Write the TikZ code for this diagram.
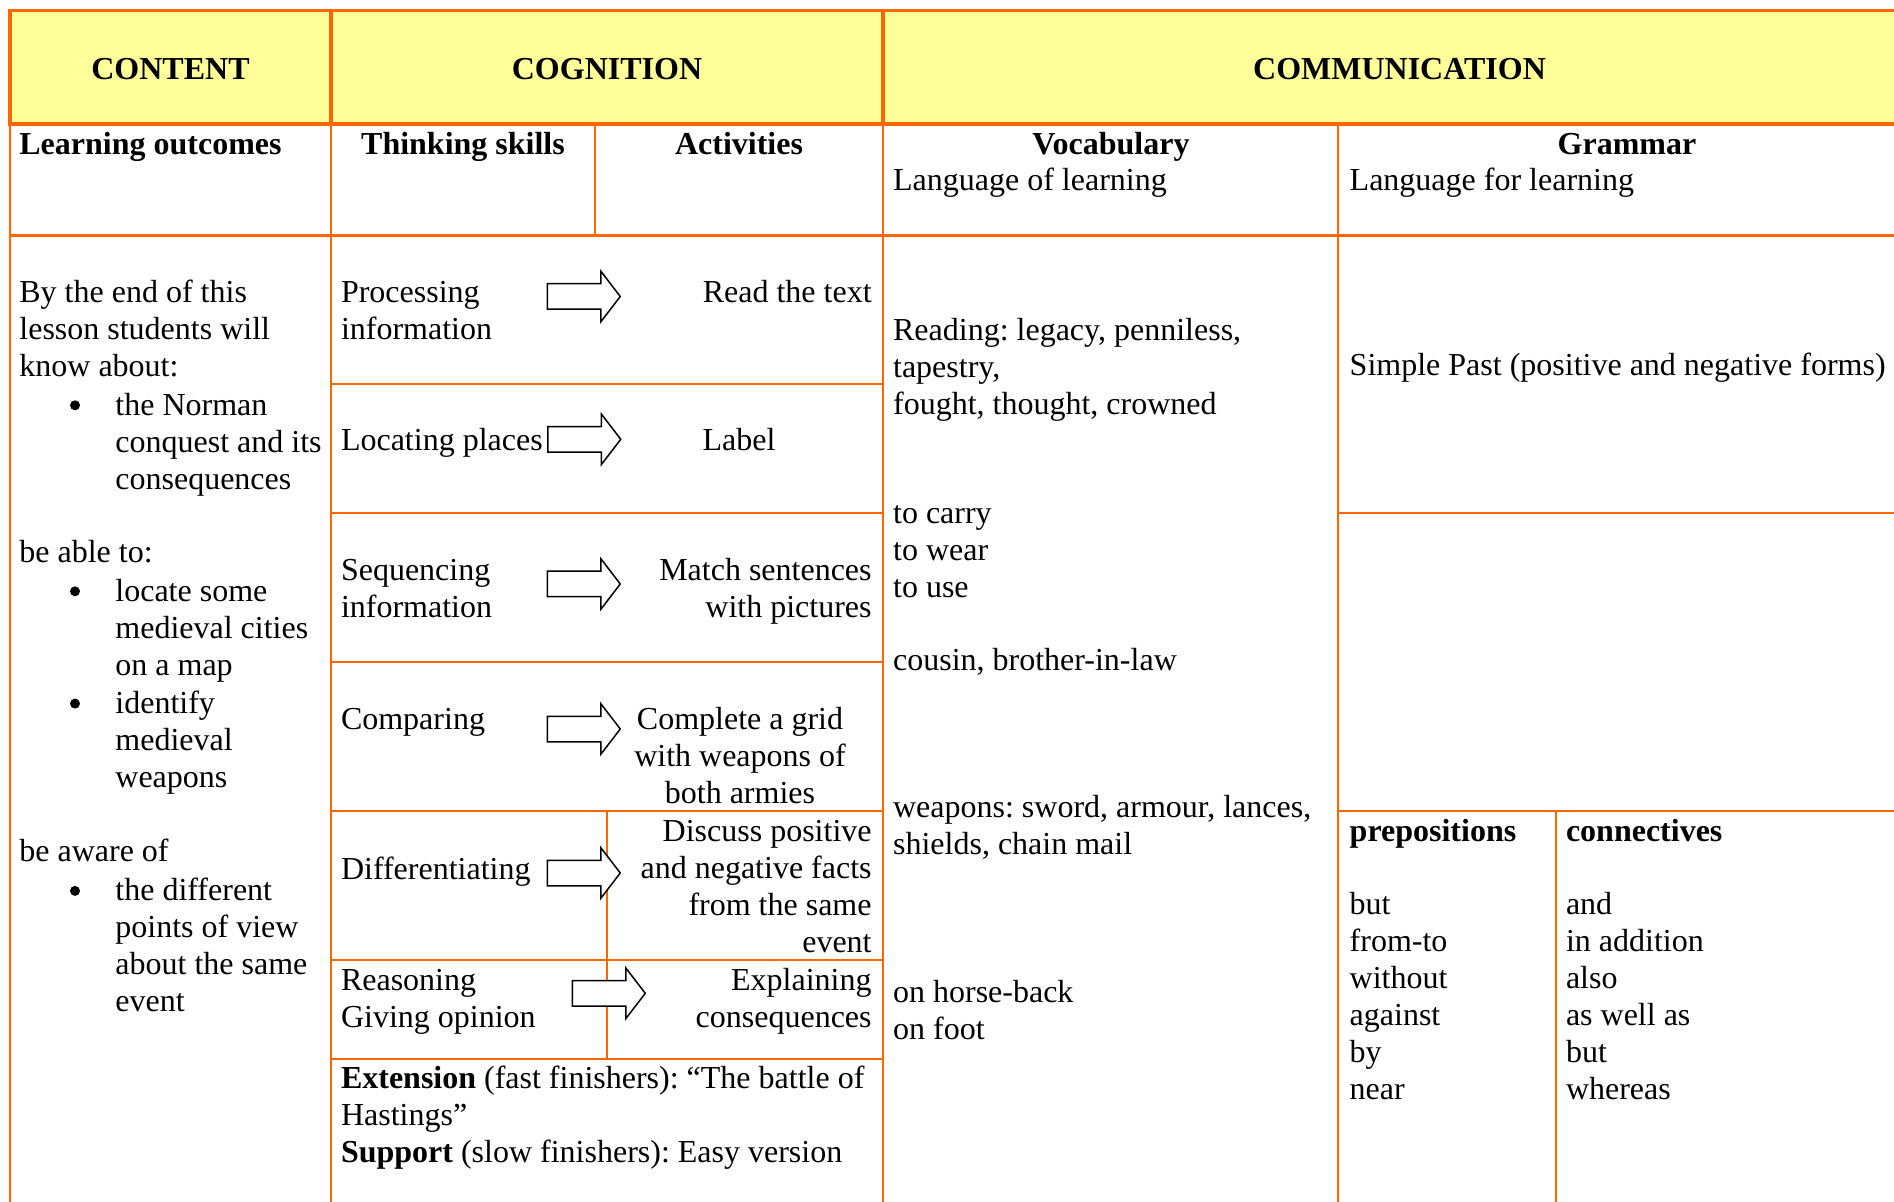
\documentclass[tikz,border=0pt]{standalone}
\usepackage{fontspec}
\setmainfont{Liberation Serif}
\usetikzlibrary{shapes.arrows}
\definecolor{ora}{HTML}{FF6600}
\definecolor{yel}{HTML}{FFFF99}
\newcommand{\fs}{\fontsize{16pt}{18.5pt}\selectfont\frenchspacing}
\begin{document}
\begin{tikzpicture}[x=0.5pt,y=-0.5pt,
  thickln/.style={draw=ora,line width=1.75pt,line cap=rect},
  thinln/.style={draw=ora,line width=1pt},
  midln/.style={draw=ora,line width=1.5pt},
  txt/.style={anchor=north west,inner sep=0pt,align=left,font=\fs,yshift=12.35pt},
  txtr/.style={anchor=north east,inner sep=0pt,align=right,font=\fs,yshift=12.35pt},
  txtc/.style={anchor=north,inner sep=0pt,align=center,font=\fs,yshift=12.35pt},
  hd/.style={anchor=base,inner sep=0pt,font=\fs\bfseries},
  hdl/.style={anchor=base west,inner sep=0pt,font=\fs\bfseries},
  bul/.style={circle,fill=black,inner sep=0pt,minimum size=5pt,yshift=4.2pt},
  barrow/.style={single arrow,draw=black,fill=white,line width=0.75pt,minimum height=36.5pt,
    single arrow head extend=6.25pt,single arrow tip angle=105,inner xsep=0pt,inner ysep=6pt,anchor=tail}
]
\useasboundingbox (0,0) rectangle (1894,1202);
\clip (0,0) rectangle (1894,1202);
% header fill
\fill[yel] (10,10.5) rectangle (1916,124);
% thin grid lines
\draw[thinln] (10,124) -- (10,1210);
\draw[thinln] (331,124) -- (331,1210);
\draw[thinln] (595,124) -- (595,236);
\draw[thinln] (883,124) -- (883,1210);
\draw[thinln] (1338,124) -- (1338,1210);
\draw[thinln] (331,384) -- (883,384);
\draw[thinln] (331,513.5) -- (883,513.5);
\draw[thinln] (331,662.5) -- (883,662.5);
\draw[thinln] (331,811) -- (883,811);
\draw[thinln] (331,960) -- (883,960);
\draw[thinln] (331,1058.5) -- (883,1058.5);
\draw[thinln] (607,811) -- (607,1058.5);
\draw[thinln] (1338,513.5) -- (1916,513.5);
\draw[thinln] (1338,811) -- (1916,811);
\draw[thinln] (1556,811) -- (1556,1210);
\draw[midln] (10,236) -- (1916,236);
% thick header lines
\draw[thickln] (10,10.5) -- (1916,10.5);
\draw[thickln] (10,10.5) -- (10,124);
\draw[thickln] (10,124) -- (1916,124);
\draw[thickln] (331,10.5) -- (331,124);
\draw[thickln] (883,10.5) -- (883,124);
% header texts
\node[hd] (hcontent) at (170.5,79.5) {CONTENT};
\node[hd] (hcog) at (607,79.5) {COGNITION};
\node[hd] (hcomm) at (1399.5,79.5) {COMMUNICATION};
% sub header
\node[hdl] (slo) at (19,155) {Learning outcomes};
\node[hd] (sts) at (463,155) {Thinking skills};
\node[hd] (sact) at (739,155) {Activities};
\node[hd] (svoc) at (1111,155) {Vocabulary};
\node[txt] (svoc2) at (892.7,189) {\strut Language of learning};
\node[hd] (sgram) at (1627,155) {Grammar};
\node[txt] (sgram2) at (1349.3,189) {\strut Language for learning};
% learning outcomes
\node[txt] (lo1) at (19,301.3) {\strut By the end of this\\lesson students will\\know about:};
\node[bul] (b1) at (75,413.7) {};
\node[txt] (lo2) at (115,413.7) {\strut the Norman\\conquest and its\\consequences};
\node[txt] (lo3) at (19,561) {\strut be able to:};
\node[bul] (b2) at (75,599.7) {};
\node[txt] (lo4) at (115,599.7) {\strut locate some\\medieval cities\\on a map};
\node[bul] (b3) at (75,712) {};
\node[txt] (lo5) at (115,712) {\strut identify\\medieval\\weapons};
\node[txt] (lo6) at (19,859.4) {\strut be aware of};
\node[bul] (b4) at (75,899.3) {};
\node[txt] (lo7) at (115,899.3) {\strut the different\\points of view\\about the same\\event};
% cognition
\node[txt] (s1) at (340.6,301.3) {\strut Processing\\information};
\node[txtr] (a1) at (872,301.3) {\strut Read the text};
\node[barrow] (ar1) at (546.5,296.5) {};
\node[txt] (s2) at (340.6,448.7) {\strut Locating places};
\node[txtc] (a2) at (739,448.7) {\strut Label};
\node[barrow] (ar2) at (547,439.3) {};
\node[txt] (s3) at (340.6,579) {\strut Sequencing\\information};
\node[txtr] (a3) at (872,579) {\strut Match sentences\\with pictures};
\node[barrow] (ar3) at (546.5,584) {};
\node[txt] (s4) at (340.6,727.8) {\strut Comparing};
\node[txtc] (a4) at (740,727.8) {\strut Complete a grid\\with weapons of\\both armies};
\node[barrow] (ar4) at (546.5,729) {};
\node[txt] (s5) at (340.6,877.6) {\strut Differentiating};
\node[txtr] (a5) at (872,840) {\strut Discuss positive\\and negative facts\\from the same\\event};
\node[barrow] (ar5) at (546.5,873) {};
\node[txt] (s6) at (340.6,988.7) {\strut Reasoning\\Giving opinion};
\node[txtr] (a6) at (872,988.7) {\strut Explaining\\consequences};
\node[barrow] (ar6) at (571.5,993.3) {};
\node[txt] (ext) at (340.6,1086.5) {\strut\textbf{Extension} (fast finishers): “The battle of\\Hastings”\\\textbf{Support} (slow finishers): Easy version};
% vocabulary
\node[txt] (v1) at (892.7,338.8) {\strut Reading: legacy, penniless,\\tapestry,\\fought, thought, crowned};
\node[txt] (v2) at (892.7,522.4) {\strut to carry\\to wear\\to use};
\node[txt] (v3) at (892.7,668.6) {\strut cousin, brother-in-law};
\node[txt] (v4) at (892.7,816) {\strut weapons: sword, armour, lances,\\shields, chain mail};
\node[txt] (v5) at (892.7,1000.8) {\strut on horse-back\\on foot};
% grammar
\node[txt] (g1) at (1349.3,373.8) {\strut Simple Past (positive and negative forms)};
\node[txt] (g2) at (1349.3,840) {\strut\textbf{prepositions}};
\node[txt] (g3) at (1349.3,912.6) {\strut but\\from-to\\without\\against\\by\\near};
\node[txt] (g4) at (1565.6,840) {\strut\textbf{connectives}};
\node[txt] (g5) at (1565.6,912.6) {\strut and\\in addition\\also\\as well as\\but\\whereas};
\end{tikzpicture}
\end{document}
